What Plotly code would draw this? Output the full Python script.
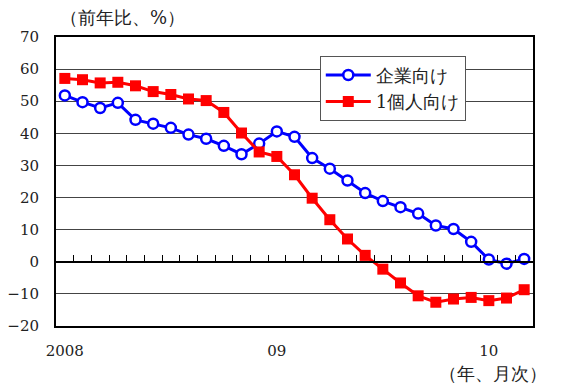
import plotly.graph_objects as go

months = ["2008-01","2008-02","2008-03","2008-04","2008-05","2008-06","2008-07","2008-08","2008-09","2008-10","2008-11","2008-12",
          "2009-01","2009-02","2009-03","2009-04","2009-05","2009-06","2009-07","2009-08","2009-09","2009-10","2009-11","2009-12",
          "2010-01","2010-02","2010-03"]
corporate = [51.8,49.7,47.9,49.5,44.2,43.0,41.7,39.6,38.3,36.1,33.5,36.8,
             40.6,38.9,32.3,29.0,25.3,21.4,18.9,17.0,15.0,11.3,10.2,6.2,
             0.7,-0.6,0.9]
individual = [57.1,56.7,55.7,55.9,54.8,53.0,52.1,50.7,50.2,46.5,40.1,34.2,
              32.8,27.1,19.8,13.1,7.1,2.0,-2.3,-6.6,-10.6,-12.6,-11.6,-11.1,
              -12.1,-11.3,-8.7]
year_tick_idx = [0, 12, 24]
year_tick_text = ["2008", "09", "10"]
series_names = ["企業向け", "1個人向け"]

x = list(range(len(months)))
FONT = "DejaVu Serif, serif"

fig = go.Figure()
fig.add_trace(go.Scatter(
    x=x, y=corporate, name=series_names[0], mode="lines+markers",
    line=dict(color="#0000FF", width=3),
    marker=dict(symbol="circle", size=10, color="white", line=dict(color="#0000FF", width=2.5)),
))
fig.add_trace(go.Scatter(
    x=x, y=individual, name=series_names[1], mode="lines+markers",
    line=dict(color="#FF0000", width=3),
    marker=dict(symbol="square", size=11, color="#FF0000", line=dict(color="#FF0000", width=0)),
))
# dummy trace on xaxis2 to activate the zero-line tick axis
fig.add_trace(go.Scatter(x=[x[0]], y=[None], xaxis="x2", showlegend=False, hoverinfo="skip"))

fig.update_layout(
    width=561, height=385,
    margin=dict(l=56, r=28, t=37, b=59, autoexpand=False),
    paper_bgcolor="white", plot_bgcolor="white",
    font=dict(family=FONT, size=15, color="#222"),
    showlegend=True,
    legend=dict(x=0.553, y=0.935, xanchor="left", yanchor="top",
                bgcolor="white", bordercolor="#555", borderwidth=1,
                font=dict(family=FONT, size=18, color="#222"),
                tracegroupgap=0, itemwidth=45),
    xaxis=dict(range=[-0.5, len(x) - 0.5], tickmode="array", automargin=False,
               tickvals=year_tick_idx, ticktext=year_tick_text,
               ticks="", showgrid=False, zeroline=False, ticklabelstandoff=10,
               showline=True, linecolor="black", linewidth=2, mirror=True,
               tickfont=dict(family=FONT, size=15, color="#222")),
    xaxis2=dict(overlaying="x", anchor="free", position=20/90, automargin=False,
                range=[-0.5, len(x) - 0.5], tickmode="array",
                tickvals=[i + 0.5 for i in x[:-1]], ticktext=["" for _ in x[:-1]],
                ticks="inside", ticklen=6, tickcolor="black", tickwidth=1,
                showline=True, linecolor="black", linewidth=2,
                showgrid=False, zeroline=False, showticklabels=False),
    yaxis=dict(range=[-20, 70], tickmode="linear", dtick=10, tick0=0, automargin=False,
               showgrid=True, gridcolor="#444", gridwidth=1,
               zeroline=False, ticks="", showline=True, linecolor="black",
               linewidth=2, mirror=True, ticklabelstandoff=12,
               tickfont=dict(family=FONT, size=15, color="#222")),
    annotations=[
        dict(text="（前年比、%）", x=0, y=1, xref="paper", yref="paper",
             xanchor="left", yanchor="bottom", showarrow=False, xshift=2, yshift=7,
             font=dict(family=FONT, size=18, color="#222")),
        dict(text="（年、月次）", x=1, y=0, xref="paper", yref="paper",
             xanchor="right", yanchor="top", showarrow=False, xshift=16, yshift=-35,
             font=dict(family=FONT, size=18, color="#222")),
    ],
)

fig.write_html("out.html", config={"displayModeBar": False},
               post_script="document.body.style.margin='0';document.body.style.padding='0';")
